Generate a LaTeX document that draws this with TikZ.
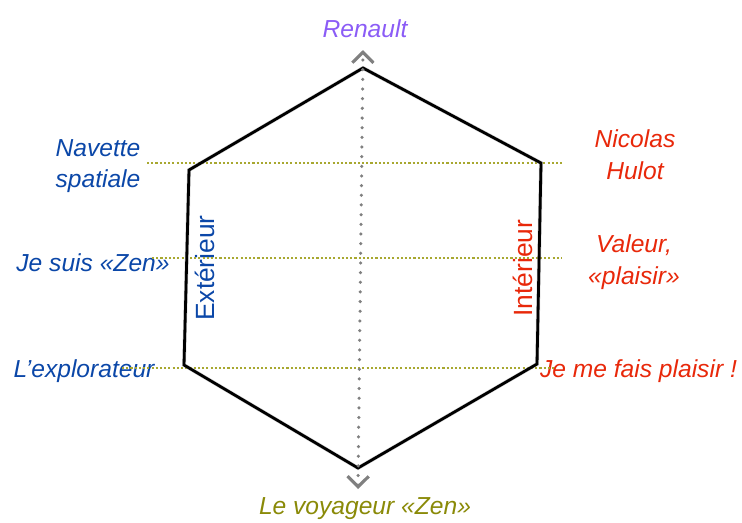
\documentclass[tikz,border=0pt]{standalone}
\usepackage{fontspec}
\setmainfont{Liberation Sans}
\usetikzlibrary{arrows.meta, positioning}

\definecolor{bleuext}{HTML}{0B47A8}
\definecolor{rougeint}{HTML}{E8280A}
\definecolor{violet}{HTML}{8B5CF6}
\definecolor{olive}{HTML}{8A8A08}
\definecolor{pointille}{HTML}{A8A830}

\begin{document}
\begin{tikzpicture}[
        x=0.02cm, y=-0.02cm,
        % Styles des textes
        etiquette/.style={
                font=\itshape\fontsize{14}{18}\selectfont,
                align=center,
                inner sep=1pt
            },
        facette/.style={
                font=\fontsize{15}{18}\selectfont,
                rotate=90,
                inner sep=1pt
            },
        % Hexagone
        prisme/.style={
                draw=black,
                line width=1.6pt,
                line join=miter
            },
        ombre/.style={
                draw=black!35,
                line width=2.2pt,
                opacity=0.5
            },
        % Lignes de repère
        repere/.style={
                draw=pointille,
                line width=0.6pt,
                dash pattern=on 1.2pt off 1.2pt
            },
        % Axe vertical
        axe/.style={
                {Straight Barb[length=6pt, width=12pt, line width=1.8pt]}-{Straight Barb[length=6pt, width=12pt, line width=1.8pt]},
                draw=black!50,
                line width=2pt,
                line cap=round,
                dash pattern=on 0pt off 5.5pt
            }
    ]

    % Cadre
    \useasboundingbox (0,0) rectangle (742,522);

    % Sommets du prisme
    \coordinate (haut) at (363,68);
    \coordinate (hautgauche) at (189,170);
    \coordinate (basgauche) at (184,365);
    \coordinate (bas) at (358,468);
    \coordinate (basdroite) at (537,364);
    \coordinate (hautdroite) at (541,163);

    % Extrémités de l'axe
    \coordinate (axehaut) at (363,50);
    \coordinate (axebas) at (358,489);

    % Textes
    \node[etiquette, text=violet] (renault) at (365,29) {Renault};
    \node[etiquette, text=olive] (voyageur) at (365,509) {Le voyageur «Zen»};
    \node[etiquette, text=bleuext] (navette) at (98,166) {Navette\\spatiale};
    \node[etiquette, text=bleuext] (zen) at (93,263) {Je suis «Zen»};
    \node[etiquette, text=bleuext] (explorateur) at (84,371) {L’explorateur};
    \node[etiquette, text=rougeint] (hulot) at (635,155) {Nicolas\\Hulot};
    \node[etiquette, text=rougeint] (valeur) at (634,262) {Valeur,\\«plaisir»};
    \node[etiquette, text=rougeint, anchor=east] (plaisir) at (739,371) {Je me fais plaisir !};
    \node[facette, text=bleuext] (exterieur) at (205,268) {Extérieur};
    \node[facette, text=rougeint] (interieur) at (523,268) {Intérieur};

    % Lignes de repère
    \coordinate (r1g) at (147,163);
    \coordinate (r1d) at (562,163);
    \coordinate (r2g) at (152,258);
    \coordinate (r2d) at (562,258);
    \coordinate (r3g) at (122,368);
    \coordinate (r3d) at (556,368);
    \draw[repere] (r1g) -- (r1d);
    \draw[repere] (r2g) -- (r2d);
    \draw[repere] (r3g) -- (r3d);

    % Prisme
    \draw[ombre, xshift=1.5, yshift=-1.5] (haut) -- (hautdroite) -- (basdroite) -- (bas) -- (basgauche) -- (hautgauche) -- cycle;
    \draw[prisme] (haut) -- (hautdroite) -- (basdroite) -- (bas) -- (basgauche) -- (hautgauche) -- cycle;

    % Axe
    \draw[axe] (axebas) -- (axehaut);

\end{tikzpicture}
\end{document}
